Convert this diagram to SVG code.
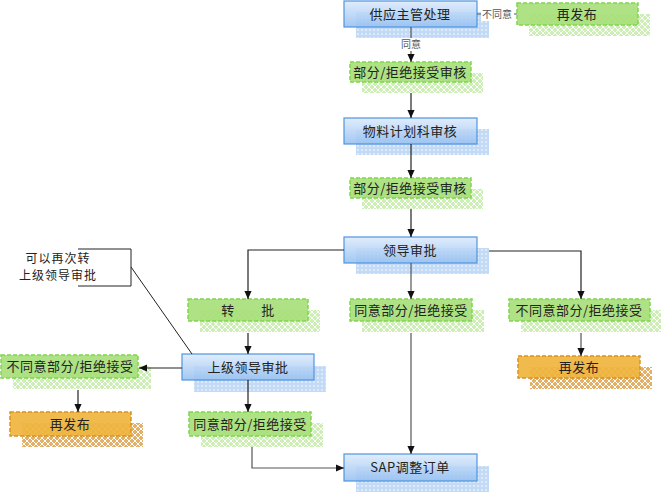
<svg xmlns="http://www.w3.org/2000/svg" width="661" height="493" viewBox="0 0 661 493">
<style>
text{font-family:"Noto Sans CJK SC","Liberation Sans",sans-serif;font-size:13px;fill:#222;letter-spacing:0.5px;text-anchor:middle}
.blue{fill:url(#gb);stroke:#4f95e0;stroke-width:1.2;fill-opacity:0.88}
.green{fill:#a6df78;stroke:#7fd64e;stroke-width:1.5;stroke-dasharray:4 2;fill-opacity:0.9}
.orange{fill:#efb43e;stroke:#d99224;stroke-width:1.5;stroke-dasharray:4 2;fill-opacity:0.92}
.sb{fill:url(#dots)}
.sg{fill:url(#hg)}
.so{fill:url(#ho)}
.c{fill:none;stroke:#222;stroke-width:1.2}
.cg{fill:none;stroke:#555;stroke-width:1.2}
.lbl{font-size:10px;fill:#555;letter-spacing:0}
.note{font-size:12px;letter-spacing:1px}
</style>
<defs>
<linearGradient id="gb" x1="0" y1="0" x2="0" y2="1"><stop offset="0" stop-color="#dceafc"/><stop offset="1" stop-color="#96c0f0"/></linearGradient>
<pattern id="dots" width="4" height="4" patternUnits="userSpaceOnUse"><rect width="4" height="4" fill="#c2daf5"/><circle cx="2" cy="2" r="0.8" fill="#fff"/></pattern>
<pattern id="hg" width="6" height="6" patternUnits="userSpaceOnUse"><rect width="6" height="6" fill="#cdeeb4"/><path d="M0,0L6,6M6,0L0,6" stroke="#fff" stroke-width="1"/></pattern>
<pattern id="ho" width="6" height="6" patternUnits="userSpaceOnUse"><rect width="6" height="6" fill="#e2b068"/><path d="M0,0L6,6M6,0L0,6" stroke="#fff" stroke-width="1"/></pattern>
<marker id="a" viewBox="0 0 10 10" refX="10" refY="5" markerWidth="8" markerHeight="8" markerUnits="userSpaceOnUse" orient="auto"><path d="M0,0.5L10,5L0,9.5z" fill="#111"/></marker>
</defs>

<g id="n1"><rect class="sb" x="356" y="12" width="133" height="26"/><rect class="blue" x="344" y="1" width="133" height="26"/><text x="410" y="19">供应主管处理</text></g>
<g id="n2"><rect class="sg" x="529" y="14" width="121" height="22"/><rect class="green" x="517" y="3" width="121" height="22"/><text x="577" y="19">再发布</text></g>
<g id="n3"><rect class="sg" x="362" y="73" width="121" height="20"/><rect class="green" x="350" y="62" width="121" height="20"/><text x="410" y="77">部分/拒绝接受审核</text></g>
<g id="n4"><rect class="sb" x="356" y="129" width="133" height="26"/><rect class="blue" x="344" y="118" width="133" height="26"/><text x="410" y="136">物料计划科审核</text></g>
<g id="n5"><rect class="sg" x="362" y="189" width="121" height="20"/><rect class="green" x="350" y="178" width="121" height="20"/><text x="410" y="193">部分/拒绝接受审核</text></g>
<g id="n6"><rect class="sb" x="356" y="248" width="133" height="26"/><rect class="blue" x="344" y="237" width="133" height="26"/><text x="410" y="255">领导审批</text></g>
<g id="n7"><rect class="sg" x="200" y="310" width="120" height="22"/><rect class="green" x="188" y="299" width="120" height="22"/><text x="228" y="315">转</text><text x="268" y="315">批</text></g>
<g id="n8"><rect class="sg" x="362" y="310" width="122" height="22"/><rect class="green" x="350" y="299" width="122" height="22"/><text x="411" y="315">同意部分/拒绝接受</text></g>
<g id="n9"><rect class="sg" x="521" y="310" width="140" height="22"/><rect class="green" x="509" y="299" width="141" height="22"/><text x="579" y="315">不同意部分/拒绝接受</text></g>
<g id="n10"><rect class="so" x="530" y="367" width="122" height="22"/><rect class="orange" x="518" y="356" width="122" height="22"/><text x="579" y="372">再发布</text></g>
<g id="n11"><rect class="sb" x="194" y="366" width="132" height="26"/><rect class="blue" x="182" y="354" width="132" height="26"/><text x="248" y="372">上级领导审批</text></g>
<g id="n12"><rect class="sg" x="13" y="366" width="138" height="23"/><rect class="green" x="1" y="355" width="137" height="23"/><text x="70" y="371">不同意部分/拒绝接受</text></g>
<g id="n13"><rect class="so" x="22" y="423" width="121" height="24"/><rect class="orange" x="10" y="412" width="121" height="24"/><text x="70" y="429">再发布</text></g>
<g id="n14"><rect class="sg" x="201" y="423" width="122" height="24"/><rect class="green" x="189" y="412" width="122" height="24"/><text x="250" y="429">同意部分/拒绝接受</text></g>
<g id="n15"><rect class="sb" x="356" y="466" width="133" height="26"/><rect class="blue" x="344" y="454" width="133" height="27"/><text x="410" y="472">SAP调整订单</text></g>

<g id="connectors">
<path class="cg" d="M411,27V62" marker-end="url(#a)"/>
<path class="cg" d="M477,14H517"/>
<path class="c" d="M411,93V118" marker-end="url(#a)"/>
<path class="c" d="M411,144V178" marker-end="url(#a)"/>
<path class="c" d="M411,209V237" marker-end="url(#a)"/>
<path class="c" d="M344,250H248V299" marker-end="url(#a)"/>
<path class="cg" d="M411,263V299" marker-end="url(#a)"/>
<path class="c" d="M489,251H581V299" marker-end="url(#a)"/>
<path class="cg" d="M581,333V356" marker-end="url(#a)"/>
<path class="c" d="M248,333V354" marker-end="url(#a)"/>
<path class="c" d="M182,368H139" marker-end="url(#a)"/>
<path class="c" d="M78,390V412" marker-end="url(#a)"/>
<path class="c" d="M248,380V412" marker-end="url(#a)"/>
<path class="cg" d="M252,447V468H344" marker-end="url(#a)"/>
<path class="cg" d="M411,333V454" marker-end="url(#a)"/>
<rect x="399" y="38" width="24" height="13" fill="#fff"/>
<text class="lbl" x="411" y="48">同意</text>
<rect x="481" y="7" width="33" height="14" fill="#fff"/>
<text class="lbl" x="497" y="18">不同意</text>
</g>

<g id="callout">
<path d="M78,249H131V286H78" fill="none" stroke="#222" stroke-width="1"/>
<path d="M131,267L192,354" fill="none" stroke="#222" stroke-width="1"/>
<text class="note" x="58" y="263">可以再次转</text>
<text class="note" x="58" y="280">上级领导审批</text>
</g>
</svg>
